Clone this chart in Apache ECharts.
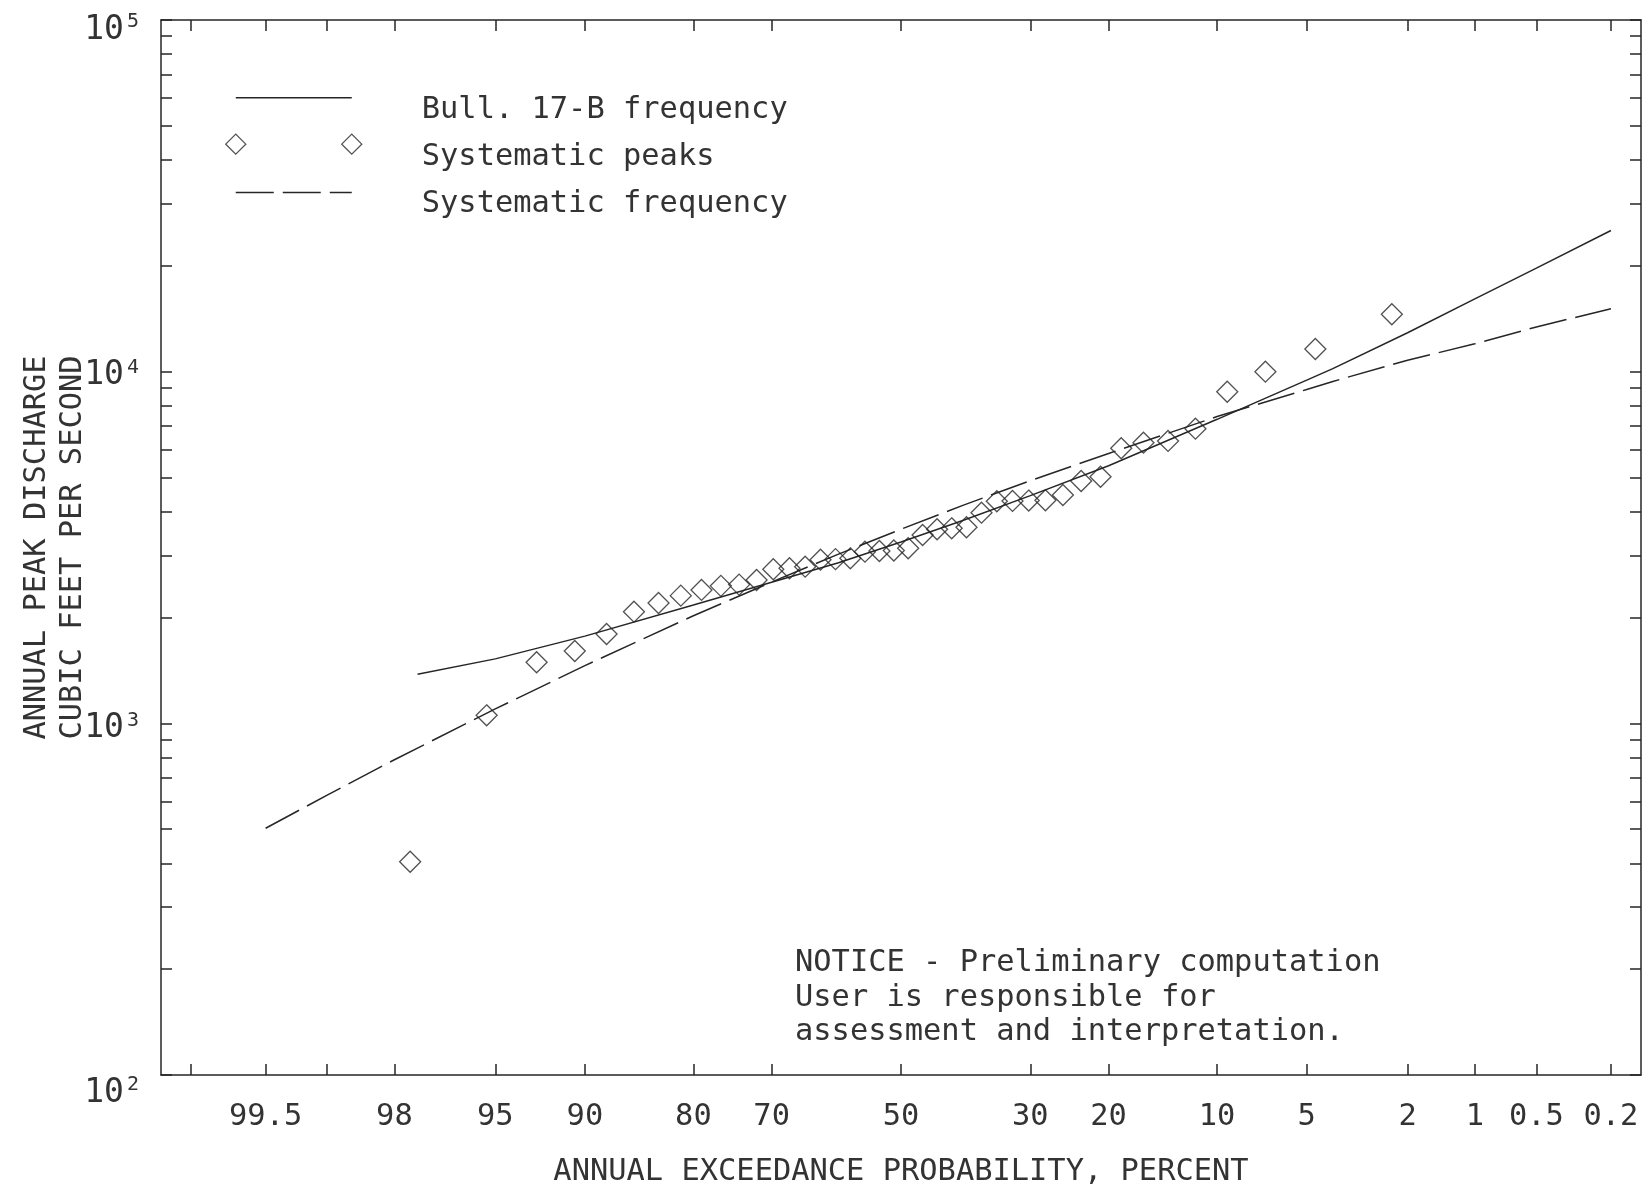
<!DOCTYPE html>
<html>
<head>
<meta charset="utf-8">
<script src="https://cdn.jsdelivr.net/npm/echarts@6/dist/echarts.min.js"></script>
<style>
  html, body { margin: 0; padding: 0; background: #fff; }
  #chart { width: 1650px; height: 1189px; }
</style>
</head>
<body>
<div id="chart"></div>
<script>
// annual exceedance probability (percent) of the ranked systematic peaks
const peakExceed = [97.67, 95.35, 93.02, 90.70, 88.37, 86.05, 83.72, 81.40, 79.07, 76.74,
    74.42, 72.09, 69.77, 67.44, 65.12, 62.79, 60.47, 58.14, 55.81, 53.49,
    51.16, 48.84, 46.51, 44.19, 41.86, 39.53, 37.21, 34.88, 32.56, 30.23,
    27.91, 25.58, 23.26, 20.93, 18.60, 16.28, 13.95, 11.63, 9.30, 6.98,
    4.65, 2.33];
// annual peak discharge, cubic feet per second
const peakFlow = [404, 1054, 1492, 1606, 1795, 2077, 2199, 2307, 2395, 2460,
    2480, 2556, 2742, 2760, 2789, 2920, 2930, 2946, 3077, 3091,
    3100, 3146, 3432, 3563, 3586, 3610, 3972, 4280, 4290, 4300,
    4310, 4460, 4888, 5027, 6056, 6281, 6353, 6884, 8770, 10000,
    11600, 14560];

// Bull. 17-B frequency curve
const bullExceed = [97.5, 95, 90, 80, 70, 60, 50, 40, 30, 20, 10, 5, 4, 2, 1, 0.5, 0.2];
const bullFlow = [1380, 1525, 1770, 2170, 2520, 2862, 3280, 3781, 4440, 5400, 7320, 9460, 10200, 12900, 16100, 19700, 25200];

// systematic frequency curve
const sysExceed = [99.5, 99, 98, 95, 90, 80, 70, 60, 50, 40, 30, 20, 10, 5, 4, 2, 1, 0.5, 0.2];
const sysFlow = [503, 625, 788, 1099, 1459, 2023, 2522, 3028, 3564, 4173, 4898, 5853, 7453, 8900, 9380, 10780, 12000, 13400, 15100];

// probability axis ticks and labels
const probTicks = [99.8, 99.5, 99, 98, 95, 90, 80, 70, 50, 30, 20, 10, 5, 2, 1, 0.5, 0.2];
const probLabelVals = [99.5, 98, 95, 90, 80, 70, 50, 30, 20, 10, 5, 2, 1, 0.5, 0.2];
const probLabels = ['99.5', '98', '95', '90', '80', '70', '50', '30', '20', '10', '5', '2', '1', '0.5', '0.2'];
// discharge axis: decades and minor ticks
const decades = [2, 3, 4, 5];
const flowTicks = [100, 200, 300, 400, 500, 600, 700, 800, 900,
    1000, 2000, 3000, 4000, 5000, 6000, 7000, 8000, 9000,
    10000, 20000, 30000, 40000, 50000, 60000, 70000, 80000, 90000, 100000];

const FONT = "'DejaVu Sans Mono', 'Liberation Mono', monospace";
const FS = 30.4;
const INK = '#262626';
const TXT = '#333';
// spacer height above each decade label (pushes it down), px
const decadeNudge = { 2: 36, 3: 10, 4: 8, 5: 20 };

////////////////////////////////////////////
//////////  probability scale  /////////////
////////////////////////////////////////////

// inverse standard normal (Acklam)
function normInv(p) {
    const a = [-3.969683028665376e+01, 2.209460984245205e+02, -2.759285104469687e+02, 1.383577518672690e+02, -3.066479806614716e+01, 2.506628277459239e+00];
    const b = [-5.447609879822406e+01, 1.615858368580409e+02, -1.556989798598866e+02, 6.680131188771972e+01, -1.328068155288572e+01];
    const c = [-7.784894002430293e-03, -3.223964580411365e-01, -2.400758277161838e+00, -2.549732539343734e+00, 4.374664141464968e+00, 2.938163982698783e+00];
    const d = [7.784695709041462e-03, 3.224671290700398e-01, 2.445134137142996e+00, 3.754408661907416e+00];
    const plow = 0.02425;
    let q, r;
    if (p < plow) {
        q = Math.sqrt(-2 * Math.log(p));
        return (((((c[0] * q + c[1]) * q + c[2]) * q + c[3]) * q + c[4]) * q + c[5]) / ((((d[0] * q + d[1]) * q + d[2]) * q + d[3]) * q + 1);
    }
    if (p > 1 - plow) {
        q = Math.sqrt(-2 * Math.log(1 - p));
        return -(((((c[0] * q + c[1]) * q + c[2]) * q + c[3]) * q + c[4]) * q + c[5]) / ((((d[0] * q + d[1]) * q + d[2]) * q + d[3]) * q + 1);
    }
    q = p - 0.5;
    r = q * q;
    return (((((a[0] * r + a[1]) * r + a[2]) * r + a[3]) * r + a[4]) * r + a[5]) * q / (((((b[0] * r + b[1]) * r + b[2]) * r + b[3]) * r + b[4]) * r + 1);
}

// exceedance percent -> normal deviate of non-exceedance
const probX = pct => normInv(1 - pct / 100);
const pairs = (xs, ys) => xs.map((p, i) => [probX(p), Math.log10(ys[i])]);

function probLabel(value) {
    let best = 0;
    probLabelVals.forEach((p, i) => {
        if (Math.abs(probX(p) - value) < Math.abs(probX(probLabelVals[best]) - value)) best = i;
    });
    return probLabels[best];
}

// "10" with a raised exponent; an invisible spacer line above pushes the label down
const decadeRich = {
    b: { fontFamily: FONT, fontSize: 33, color: TXT, lineHeight: 36 },
    s: { fontFamily: FONT, fontSize: 20, color: TXT, lineHeight: 20, verticalAlign: 'top', padding: [0, 0, 0, 3] }
};
decades.forEach(n => {
    decadeRich['sp' + n] = { fontSize: 4, lineHeight: decadeNudge[n], color: 'transparent' };
});

function decadeLabel(v) {
    const n = Math.round(v);
    return '{sp' + n + '| }\n{b|10}{s|' + n + '}';
}

////////////////////////////////////////////
///////////////  chart  ////////////////////
////////////////////////////////////////////

const chart = echarts.init(document.getElementById('chart'), null, { renderer: 'canvas' });

const axisLine = { show: true, onZero: false, lineStyle: { color: INK, width: 1.5 } };
const tickStyle = { color: INK, width: 1.5 };
const xTicks = probTicks.map(probX);
const yTicks = flowTicks.map(v => Math.log10(v));

const option = {
    animation: false,
    backgroundColor: '#fff',
    textStyle: { fontFamily: FONT, color: TXT },
    grid: { left: 161, right: 9, top: 20, bottom: 114, containLabel: false, outerBoundsMode: 'none' },
    title: {
        text: 'NOTICE - Preliminary computation\nUser is responsible for\nassessment and interpretation.',
        left: 795,
        top: 946,
        padding: 0,
        textStyle: { fontFamily: FONT, fontSize: FS, fontWeight: 'normal', color: TXT, lineHeight: 34.5 }
    },
    legend: {
        orient: 'vertical',
        left: 225,
        top: 86,
        padding: 0,
        itemGap: 0,
        itemWidth: 136,
        itemHeight: 46,
        selectedMode: false,
        textStyle: { fontFamily: FONT, fontSize: FS, color: TXT, padding: [0, 0, 0, 55] },
        data: [
            {
                name: 'Bull. 17-B frequency',
                icon: 'path://M0 0M136 46M10 11L126 11',
                itemStyle: { color: 'transparent', borderColor: INK, borderWidth: 1.5 }
            },
            {
                name: 'Systematic peaks',
                icon: 'path://M0 0M136 46M0 10L10 0L20 10L10 20ZM116 10L126 0L136 10L126 20Z',
                itemStyle: { color: 'transparent', borderColor: INK, borderWidth: 1.3 }
            },
            {
                name: 'Systematic frequency',
                icon: 'path://M0 0M136 46M10 11L48 11M57 11L95 11M104 11L126 11',
                itemStyle: { color: 'transparent', borderColor: INK, borderWidth: 1.5 }
            }
        ]
    },
    xAxis: [
        {
            type: 'value',
            min: -3,
            max: 3,
            position: 'bottom',
            name: 'ANNUAL EXCEEDANCE PROBABILITY, PERCENT',
            nameLocation: 'middle',
            nameGap: 79,
            nameMoveOverlap: false,
            nameTextStyle: { fontFamily: FONT, fontSize: FS, color: TXT, lineHeight: 36 },
            axisLine: axisLine,
            axisTick: { inside: true, length: 11, customValues: xTicks, lineStyle: tickStyle },
            axisLabel: {
                customValues: probLabelVals.map(probX),
                formatter: probLabel,
                margin: 27,
                fontFamily: FONT,
                fontSize: FS,
                color: TXT
            },
            splitLine: { show: false }
        },
        {
            type: 'value',
            min: -3,
            max: 3,
            position: 'top',
            axisLine: axisLine,
            axisTick: { inside: true, length: 11, customValues: xTicks, lineStyle: tickStyle },
            axisLabel: { show: false },
            splitLine: { show: false }
        }
    ],
    yAxis: [
        {
            type: 'value',
            min: 2,
            max: 5,
            position: 'left',
            name: 'ANNUAL PEAK DISCHARGE\nCUBIC FEET PER SECOND',
            nameLocation: 'middle',
            nameGap: 70,
            nameMoveOverlap: false,
            nameTextStyle: { fontFamily: FONT, fontSize: FS, color: TXT, lineHeight: 36 },
            axisLine: axisLine,
            axisTick: { inside: true, length: 11, customValues: yTicks, lineStyle: tickStyle },
            axisLabel: {
                customValues: decades,
                margin: 22,
                formatter: decadeLabel,
                rich: decadeRich
            },
            splitLine: { show: false }
        },
        {
            type: 'value',
            min: 2,
            max: 5,
            position: 'right',
            axisLine: axisLine,
            axisTick: { inside: true, length: 11, customValues: yTicks, lineStyle: tickStyle },
            axisLabel: { show: false },
            splitLine: { show: false }
        }
    ],
    series: [
        {
            name: 'Bull. 17-B frequency',
            type: 'line',
            data: pairs(bullExceed, bullFlow),
            showSymbol: false,
            symbol: 'none',
            lineStyle: { color: INK, width: 1.5 },
            itemStyle: { color: INK },
            z: 3
        },
        {
            name: 'Systematic peaks',
            type: 'scatter',
            data: pairs(peakExceed, peakFlow),
            symbol: 'diamond',
            symbolSize: 21,
            itemStyle: { color: 'transparent', borderColor: INK, borderWidth: 1.3 },
            z: 4
        },
        {
            name: 'Systematic frequency',
            type: 'line',
            data: pairs(sysExceed, sysFlow),
            showSymbol: false,
            symbol: 'none',
            lineStyle: { color: INK, width: 1.5, type: [38, 9] },
            itemStyle: { color: INK },
            z: 3
        }
    ]
};

chart.setOption(option);
</script>
</body>
</html>
